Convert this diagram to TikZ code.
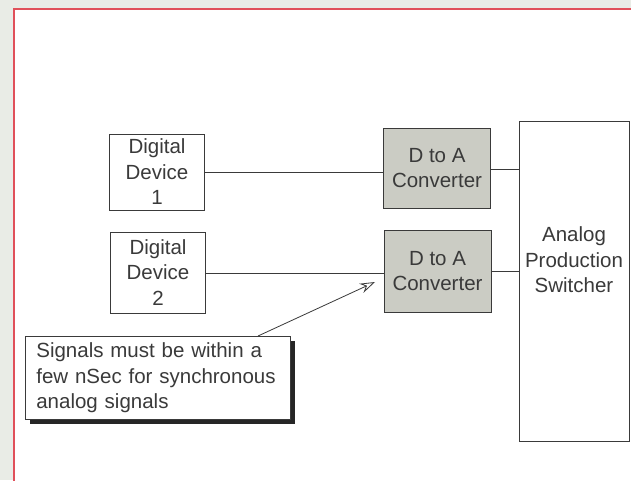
\documentclass[tikz,border=0pt]{standalone}
\usepackage{fontspec}
\setmainfont{Liberation Sans}
\usetikzlibrary{arrows.meta,shadows}
\definecolor{paper}{HTML}{E9ECE6}
\definecolor{frame}{HTML}{E0505A}
\definecolor{ink}{HTML}{3A3A3A}
\definecolor{dacfill}{HTML}{CBCCC4}
\tikzset{
  blk/.style={draw=ink, line width=0.9pt, inner sep=0pt, align=center,
    font=\fontsize{20.5}{25.5}\selectfont, text=ink},
  wire/.style={draw=ink, line width=0.8pt},
}
\begin{document}
\begin{tikzpicture}[x=1pt,y=-1pt]
  \useasboundingbox (0,0) rectangle (631,480);
  \clip (0,0) rectangle (631,480);
  % page background and red frame
  \fill[paper] (0,0) rectangle (631,480);
  \fill[white] (14,9) rectangle (640,490);
  \draw[frame, line width=1.3pt] (14,490) -- (14,9) -- (640,9);

  % source devices
  \node[blk, minimum width=95pt, minimum height=76pt] (dd1) at (157,172) {Digital\\Device\\1};
  \node[blk, minimum width=95pt, minimum height=81pt] (dd2) at (158,272.5) {Digital\\Device\\2};

  % converters
  \node[blk, fill=dacfill, minimum width=107pt, minimum height=80pt] (dac1) at (437,168) {D to A\\Converter};
  \node[blk, fill=dacfill, minimum width=107pt, minimum height=82pt] (dac2) at (437.5,271) {D to A\\Converter};

  % switcher (label sits above centre)
  \node[blk, minimum width=110pt, minimum height=320pt] (sw) at (574,281) {};
  \node[align=center, font=\fontsize{20.5}{25.5}\selectfont, text=ink] (swlabel) at (574,260) {Analog\\Production\\Switcher};

  % signal paths
  \draw[wire] (dd1.east |- 0,172) -- (dac1.west |- 0,172);
  \draw[wire] (dac1.east |- 0,169) -- (sw.west |- 0,169);
  \draw[wire] (dd2.east |- 0,273) -- (dac2.west |- 0,273);
  \draw[wire] (dac2.east |- 0,271) -- (sw.west |- 0,271);

  % note with drop shadow
  \node[blk, line width=0.7pt, fill=white, align=left, anchor=north west,
        minimum width=265pt, minimum height=83pt, text width=243pt, inner xsep=11pt,
        drop shadow={shadow xshift=5pt, shadow yshift=-5pt, fill=black!85, opacity=1}]
        (note) at (25,336) {Signals must be within a\\few nSec for synchronous\\analog signals};
  \coordinate (tip) at (375,282);
  \draw[ink, line width=0.8pt, -{Stealth[open, length=15pt, width=10pt, inset=5pt]}]
        (note.north west -| 258,0) -- (tip);
\end{tikzpicture}
\end{document}
